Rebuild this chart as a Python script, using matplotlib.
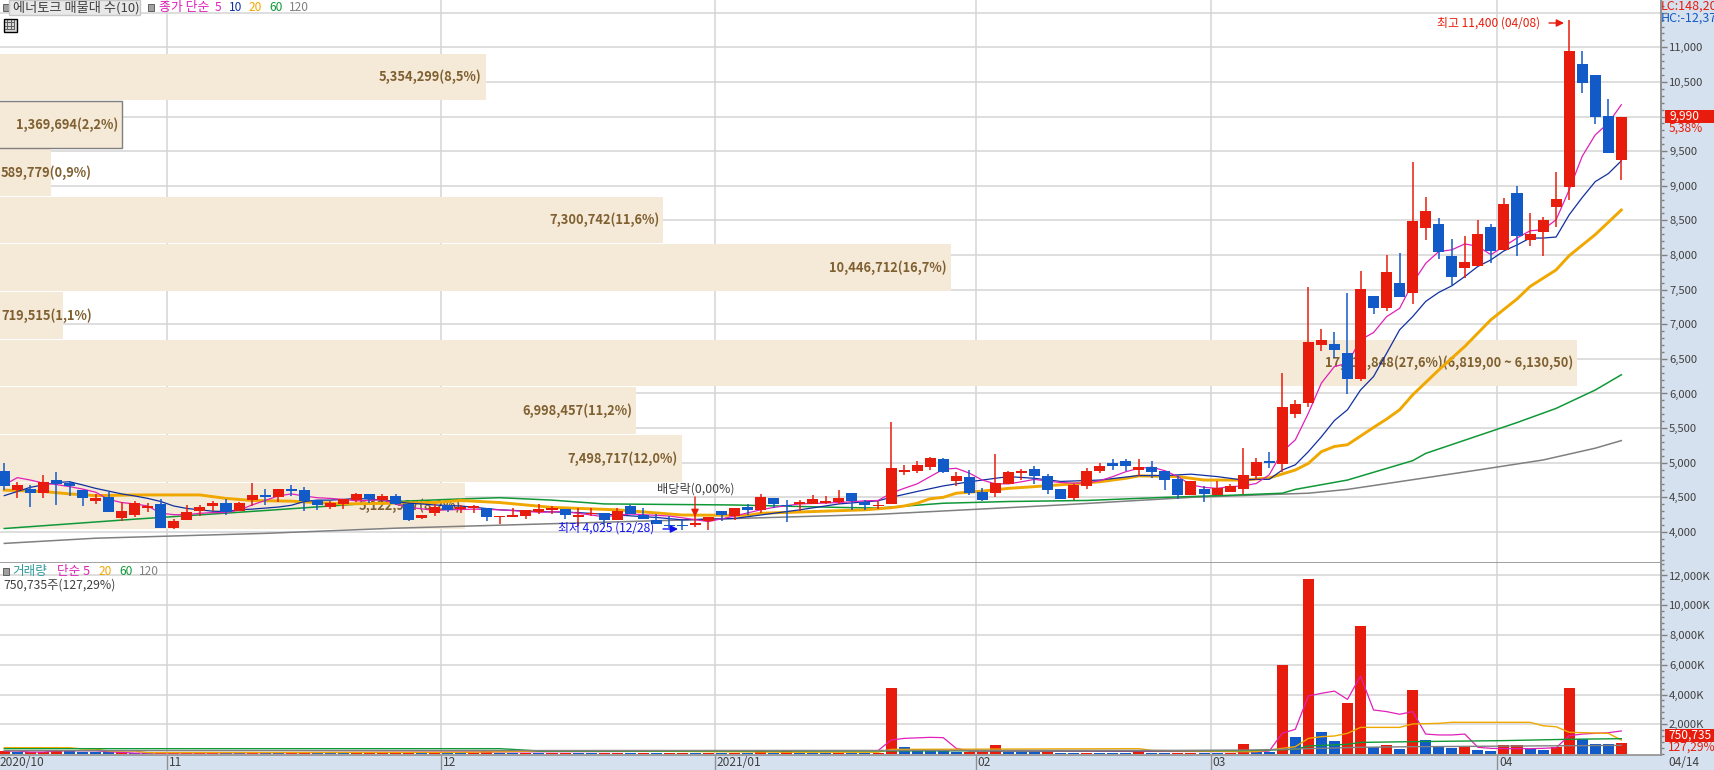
import matplotlib
matplotlib.use('Agg')
import matplotlib.pyplot as plt
import numpy as np
from matplotlib.patches import Rectangle
from matplotlib.ticker import FixedLocator, FuncFormatter, MultipleLocator

plt.rcParams['font.family'] = ['Noto Sans CJK KR', 'DejaVu Sans']

opens = [4880,4605,4620,4565,4750,4710,4605,4450,4505,4200,4245,4345,4405,4060,4175,4305,4375,4420,4305,4460,4535,4505,4615,4605,4460,
         4360,4405,4460,4550,4460,4520,4405,4200,4275,4390,4330,4350,4345,4215,4215,4230,4295,4315,4330,4220,4260,4275,4175,4375,4245,
         4175,4100,4100,4100,4160,4305,4230,4360,4320,4490,4395,4405,4405,4420,4435,4565,4435,4380,4405,4865,4880,4940,5055,4735,4795,
         4580,4565,4695,4855,4910,4810,4620,4490,4665,4880,4995,5025,4895,4940,4880,4765,4535,4620,4535,4580,4620,4810,5025,4980,5705,
         5865,6700,6715,6585,6210,7410,7235,7600,7455,8395,8450,7990,7815,7845,8405,8075,8900,8220,8335,8695,8985,10760,10605,10010,9375]
highs = [4995,4715,4680,4825,4865,4735,4605,4550,4580,4435,4450,4420,4475,4190,4390,4390,4450,4475,4435,4710,4620,4620,4680,4650,4460,
         4450,4470,4565,4550,4550,4550,4405,4245,4405,4390,4385,4390,4345,4230,4345,4320,4405,4375,4330,4345,4345,4275,4345,4390,4345,
         4260,4230,4175,4230,4215,4305,4345,4405,4550,4490,4460,4460,4535,4520,4605,4565,4460,4450,5590,4970,5025,5085,5070,4865,4895,
         4635,5125,4880,4910,4955,4840,4620,4695,4925,4995,5055,5055,5055,5025,4880,4810,4735,4665,4735,4695,5215,5070,5155,6295,5905,
         7540,6935,6890,7455,7770,7410,8005,8030,9345,8840,8535,8235,8275,8510,8450,8825,9000,8610,8550,9200,11400,10950,10605,10255,9990]
lows = [4605,4490,4360,4490,4390,4520,4375,4405,4290,4160,4215,4290,4060,4045,4175,4230,4305,4245,4305,4375,4390,4435,4520,4305,4320,
        4330,4330,4435,4420,4435,4390,4160,4190,4230,4290,4270,4280,4160,4115,4215,4190,4260,4260,4190,4085,4230,4115,4175,4260,4190,
        4115,4055,4025,4070,4030,4160,4175,4245,4275,4345,4145,4305,4405,4405,4405,4320,4320,4330,4405,4825,4855,4895,4855,4665,4535,
        4450,4505,4695,4750,4695,4550,4475,4460,4620,4855,4895,4880,4810,4780,4605,4475,4535,4435,4535,4580,4550,4750,4925,4865,5645,
        5805,6615,6515,5995,6180,7150,7195,7395,7295,8220,7945,7570,7670,7845,7885,8075,7990,8135,7990,8405,8795,10345,9895,9475,9085]
closes = [4665,4680,4565,4725,4695,4665,4490,4490,4290,4305,4420,4375,4060,4160,4290,4360,4420,4290,4420,4535,4510,4620,4590,4450,4390,
          4420,4470,4550,4475,4520,4405,4175,4245,4360,4320,4355,4375,4215,4230,4245,4320,4330,4345,4245,4245,4275,4175,4305,4260,4190,
          4115,4080,4080,4130,4215,4245,4345,4320,4505,4405,4370,4435,4475,4450,4490,4450,4390,4395,4925,4895,4970,5070,4865,4810,4565,
          4460,4710,4865,4880,4810,4605,4475,4680,4880,4955,4955,4955,4940,4865,4750,4535,4735,4550,4635,4665,4825,5010,4995,5805,5850,
          6745,6775,6630,6210,7510,7235,7755,7395,8495,8640,8045,7685,7900,8305,8060,8740,8275,8305,8510,8810,10950,10490,9995,9475,9990]

ma5_x = list(range(34)) + [34,36,38,41,43,46,48,51,52,54,56,58,59,61,64,66] + list(range(67,125))
ma5_y = [4680,4785,4750,4705,4685,4655,4620,4575,4470,4425,4405,4375,4270,4250,4250,4270,4280,4280,4315,4390,4455,4520,4550,4520,4495,4485,4470,4450,4455,4470,4405,4355,4335,4310,
         4320,4330,4320,4285,4295,4220,4260,4230,4205,4150,4230,4320,4355,4405,4425,4450,
         4455,4560,4630,4695,4800,4905,4920,4850,4750,4695,4695,4725,4760,4735,4715,4705,4705,4740,4800,4870,4920,4935,4885,4800,4680,4645,4630,4655,4665,4700,4825,
         5160,5330,5715,6150,6390,6435,6775,6880,7110,7230,7595,7880,8050,8075,8160,8125,8005,8125,8245,8350,8365,8510,8940,9425,9735,9905,10170]
ma10_x = list(range(34)) + [35,38,41,44,47,50,52,54,56,58,61,64,67,68,70,72,74,77,79,81,84,87,89,91,93,95] + list(range(96,125))
ma10_y = [4525,4585,4645,4680,4715,4725,4680,4630,4590,4550,4520,4485,4440,4375,4340,4320,4300,4295,4320,4330,4345,4360,4385,4440,4460,4460,4470,4485,4475,4460,4440,4415,4405,4390,
          4375,4320,4295,4280,4245,4210,4175,4185,4195,4245,4320,4405,4450,4500,4585,4665,4725,4800,4775,4730,4750,4815,4815,4835,4800,4750,
          4760,4760,4895,4970,5160,5375,5610,5765,6050,6245,6580,6920,7110,7330,7460,7555,7690,7835,7930,8060,8145,8245,8245,8260,8580,8830,9060,9175,9360]
ma20_x = [0,3,5,7,10,15,17,19,22,26,33,35,38,42,47,52,57,58,66,68,69,70,71,72,73,75,77,79,82,84,86,87,90,92,95,97,99,100,101,102,103,104,105,106,107,108,110,112,114,116,117,119,120,122,124]
ma20_y = [4605,4585,4550,4525,4535,4535,4485,4455,4445,4405,4425,4455,4425,4355,4320,4245,4240,4270,4320,4350,4375,4415,4480,4500,4560,4590,4630,4655,4695,4725,4775,4810,4800,4750,4750,4780,4895,4990,5160,5235,5260,5385,5510,5630,5765,5980,6340,6680,7065,7365,7545,7785,7990,8295,8650]
ma60_x = [0,10,20,30,34,38,42,46,56,64,67,72,77,83,89,94,98,99,103,108,109,116,119,122,124]
ma60_y = [4050,4185,4310,4440,4470,4495,4460,4405,4390,4355,4345,4415,4440,4455,4500,4530,4560,4615,4750,5030,5135,5580,5785,6050,6270]
ma120_x = [0,7,20,30,43,58,67,81,91,100,103,113,118,122,124]
ma120_y = [3835,3910,3980,4055,4125,4205,4255,4390,4500,4560,4615,4895,5040,5210,5320]

volumes = [200,130,140,150,180,170,150,130,110,120,100,60,65,70,75,80,85,70,60,70,60,55,60,70,60,
           55,50,55,60,65,70,75,60,70,65,60,65,190,90,70,75,65,70,75,70,60,65,70,60,65,
           60,70,75,65,70,60,70,60,220,90,220,90,70,60,70,60,55,90,4460,470,335,270,265,150,155,
           160,600,150,140,130,135,90,85,88,80,75,70,130,85,80,85,90,80,75,90,670,160,150,5980,1140,
           11760,1480,870,3430,8600,470,600,335,4300,940,470,400,470,270,200,600,605,335,270,470,4430,1000,670,665,750]
vol5_x = [0,1,2,3,4,7,8,10,67,68,69,71,72,73,74,95,96,97,98,99,100,101,102,103,104,105,106,107,108,109,110,111,112,113,114,115,117,118,119,120,121,122,123,124]
vol5_y = [200,200,130,130,220,220,155,60,225,940,1050,1120,1100,380,200,160,150,200,1390,1660,3900,4080,4230,3670,5240,2960,2850,2670,2850,1340,1280,1280,1340,450,380,360,360,380,425,1230,1340,1390,1430,1550]
vol20_x = [0,5,6,7,8,10,11,35,41,48,60,67,68,87,88,95,96,98,99,100,101,102,103,104,107,108,110,111,117,118,119,120,123,124]
vol20_y = [425,425,340,330,200,200,90,110,200,200,120,120,310,358,240,160,160,380,490,1050,1165,1210,1390,1790,1790,2020,2060,2130,2130,1900,1830,1460,1390,940]
vol60_x = [0,38,39,41,48,95,99,100,103,104,108,115,120,124]
vol60_y = [358,358,310,200,200,225,310,540,650,780,830,900,990,1030]
vol120_x = [0,90,96,104,108,124]
vol120_y = [224,245,270,450,490,580]

band_tops = [10905,10220,9530,8840,8155,7465,6775,6090,5400,4710]
band_height = 672
band_values = [5354299,1369694,589779,7300742,10446712,719515,17311848,6998457,7498717,5122997]
band_labels = ['5,354,299(8,5%)','1,369,694(2,2%)','589,779(0,9%)','7,300,742(11,6%)','10,446,712(16,7%)','719,515(1,1%)',
               '17,311,848(27,6%)(6,819,00 ~ 6,130,50)','6,998,457(11,2%)','7,498,717(12,0%)','5,122,997(8,2%)']
month_pos = [12.5,33.5,54.5,74.5,92.5,114.5]
month_labels = ['11','12','2021/01','02','03','04']

W, H = 1714, 770
LEFT_IDX, RIGHT_IDX = -0.33, 127.02
RED, BLUE = '#E81C0C', '#125AC8'
PINK, NAVY, ORANGE, GREEN, GREY = '#E020B8', '#1030A0', '#F0A800', '#109838', '#808080'
GRID = '#D4D4D4'
TEXT = '#404040'
SHARES_PER_IDX = 142892.
BAND_ORIGIN = -0.544

fig = plt.figure(figsize=(W/100., H/100.), facecolor='#D6E1EF')
ax = fig.add_axes([0, 1-563./H, 1660.7/W, 563./H])
ax2 = fig.add_axes([0, 1-755./H, 1660.7/W, 192./H])


def put(x, y, s, color=TEXT, size=8.6, **kw):
    # text placed in image pixels
    kw.setdefault('va', 'center')
    return fig.text(x/W, 1-y/H, s, color=color, fontsize=size, **kw)


def arrow(x0, y0, x1, y1, color):
    ax.annotate('', xy=(x1/W, 1-y1/H), xytext=(x0/W, 1-y0/H), xycoords='figure fraction', textcoords='figure fraction',
                arrowprops=dict(arrowstyle='-|>', color=color, lw=1, mutation_scale=11, shrinkA=0, shrinkB=0), zorder=8)


def box(x, y, w, h, **kw):
    fig.add_artist(Rectangle((x/W, 1-(y+h)/H), w/W, h/H, transform=fig.transFigure, **kw))


# price panel
idx = np.arange(len(closes))
o, h, l, c = [np.array(v, dtype=float) for v in (opens, highs, lows, closes)]
up = c >= o
colours = np.where(up, RED, BLUE)

for pos in month_pos:
    for axs in (ax, ax2):
        axs.axvline(pos, color=GRID, lw=1.1, zorder=1)

band_ends = BAND_ORIGIN + np.array(band_values)/SHARES_PER_IDX
ax.barh(band_tops, band_ends-LEFT_IDX, height=-band_height, left=LEFT_IDX, align='edge', color='#F5E9D8', zorder=2)
ax.add_patch(Rectangle((LEFT_IDX-1, band_tops[1]-band_height), band_ends[1]-LEFT_IDX+1, band_height, fill=False, edgecolor='#808080', lw=1, zorder=2.5))
for top, val, end, lab in zip(band_tops, band_values, band_ends, band_labels):
    ypos = top - band_height/2
    if val < 1000000:
        ax.annotate(lab, xy=(LEFT_IDX, ypos), xytext=(1, 0), textcoords='offset pixels', ha='left', va='center', color='#7F6030', fontsize=9.25, fontweight='bold', zorder=3)
    else:
        ax.annotate(lab, xy=(end, ypos), xytext=(-4, 0), textcoords='offset pixels', ha='right', va='center', color='#7F6030', fontsize=9.25, fontweight='bold', zorder=3)

ax.plot(ma120_x, ma120_y, color=GREY, lw=1.1, zorder=4)
ax.plot(ma60_x, ma60_y, color=GREEN, lw=1.1, zorder=4)
ax.plot(ma20_x, ma20_y, color=ORANGE, lw=2.1, zorder=4)
ax.plot(ma10_x, ma10_y, color=NAVY, lw=0.9, zorder=4)
ax.plot(ma5_x, ma5_y, color=PINK, lw=0.9, zorder=4)

ax.vlines(idx, l, h, color=colours, lw=1.1, zorder=5)
ax.bar(idx, np.abs(c-o), bottom=np.minimum(o, c), width=0.845, color=colours, lw=0, zorder=6)

ax.set_xlim(LEFT_IDX, RIGHT_IDX)
ax.set_ylim(3552, 11683)
price_ticks = np.arange(4000, 12000, 500)
ax.yaxis.set_major_locator(FixedLocator(price_ticks))
# 10,000 sits under the current price tag in the original
ax.yaxis.set_major_formatter(FuncFormatter(lambda v, p: '' if v > 11000 or v == 10000 else '{:,.0f}'.format(v)))
ax.yaxis.set_minor_locator(MultipleLocator(100))
ax.grid(axis='y', color=GRID, lw=1.1, zorder=1)
ax.set_axisbelow(True)
ax.set_xticks([])

# volume panel
v = np.array(volumes, dtype=float)
vol_up = np.r_[True, v[1:] >= v[:-1]]
ax2.bar(idx, v, width=0.845, color=np.where(vol_up, RED, BLUE), lw=0, zorder=3)
ax2.plot(vol5_x, vol5_y, color=PINK, lw=0.9, zorder=4)
ax2.plot(vol20_x, vol20_y, color=ORANGE, lw=1.0, zorder=4)
ax2.plot(vol60_x, vol60_y, color=GREEN, lw=1.0, zorder=4)
ax2.plot(vol120_x, vol120_y, color=GREY, lw=1.0, zorder=4)
ax2.set_xlim(LEFT_IDX, RIGHT_IDX)
ax2.set_ylim(-67, 12840)
ax2.yaxis.set_major_locator(FixedLocator(np.arange(2000, 14000, 2000)))
ax2.yaxis.set_major_formatter(FuncFormatter(lambda val, p: '{:,.0f}K'.format(val)))
ax2.yaxis.set_minor_locator(MultipleLocator(400))
ax2.grid(axis='y', color=GRID, lw=1.1, zorder=1)
ax2.set_axisbelow(True)
ax2.set_xticks(month_pos)
ax2.set_xticklabels([])
ax2.tick_params(axis='x', length=11, width=1, color='#909090', direction='out')
for pos, lab in zip(month_pos, month_labels):
    ax2.annotate(lab, xy=(pos, 0), xycoords=('data', 'axes fraction'), xytext=(2, -8), textcoords='offset pixels',
                 ha='left', va='center', color=TEXT, fontsize=8.6, annotation_clip=False)
put(0, 763, '2020/10', ha='left')
put(1668, 763, '04/14', ha='left')

for axs in (ax, ax2):
    axs.yaxis.tick_right()
    axs.tick_params(axis='y', which='major', length=4.5, width=1, color='#808080', labelcolor=TEXT, labelsize=8.1, pad=1.5)
    axs.tick_params(axis='y', which='minor', length=2.5, width=1, color='#808080')
    for side in ('left', 'top'):
        axs.spines[side].set_visible(False)
    axs.spines['right'].set_color('#909090')
    axs.spines['right'].set_linewidth(1.4)
    axs.spines['bottom'].set_color('#909090')
    axs.spines['bottom'].set_linewidth(1.2)

# top legend
box(3, 4, 6, 7, facecolor='#A0A0A0', edgecolor='#606060', lw=0.7)
box(8.5, 0.5, 131, 14, facecolor='#E8E8E8', edgecolor='#C8C8C8', lw=1)
put(13, 7.5, '에너토크 매물대 수(10)', size=9.5)
box(148, 4, 6, 7, facecolor='#A0A0A0', edgecolor='#606060', lw=0.7)
put(159, 7.5, '종가 단순', PINK, size=9.3)
put(215, 7.5, '5', PINK)
put(229, 7.5, '10', NAVY)
put(249, 7.5, '20', ORANGE)
put(269, 7.5, '60', GREEN)
put(289, 7.5, '120', GREY)

# small table icon
box(3.5, 18.5, 13, 13, facecolor='#D8D8D8', edgecolor='black', lw=1)
for gx in (7.5, 11, 14):
    box(gx, 20, 0.5, 10, facecolor='#606060', lw=0)
for gy in (22.5, 26, 29):
    box(5, gy, 10, 0.5, facecolor='#606060', lw=0)

# volume legend
box(3, 568, 6, 7, facecolor='#A0A0A0', edgecolor='#606060', lw=0.7)
put(12.5, 571.5, '거래량', '#2E9A9A', size=9.1)
put(57, 571.5, '단순 5', PINK, size=9.1)
put(99, 571.5, '20', ORANGE)
put(119, 571.5, '60', GREEN)
put(139, 571.5, '120', GREY)
put(3, 585, '750,735주(127,29%)', size=8.8)

# chart notes
put(1437, 23, '최고 11,400 (04/08)', RED, size=8.6)
arrow(1549, 23, 1564, 23, RED)
put(657, 489, '배당락(0,00%)', TEXT, size=8.8)
arrow(695, 497, 695, 517, RED)
put(558, 528, '최저 4,025 (12/28)', '#1010F0', size=8.6)
arrow(663, 529, 678, 529, '#1010F0')

# right side tags
put(1661, 6, 'LC:148,200', RED, size=9)
put(1661, 18, 'HC:-12,375', BLUE, size=9)
box(1665, 110, 49, 13, facecolor=RED, lw=0)
put(1669, 116, '9,990', 'white', size=8.6)
put(1669, 128, '5,38%', RED, size=8.6)
box(1665, 729, 49, 13, facecolor=RED, lw=0)
put(1668, 735, '750,735', 'white', size=8.6)
put(1668, 747, '127,29%', RED, size=8.6)

fig.savefig('out.png', dpi=100)
plt.close()
